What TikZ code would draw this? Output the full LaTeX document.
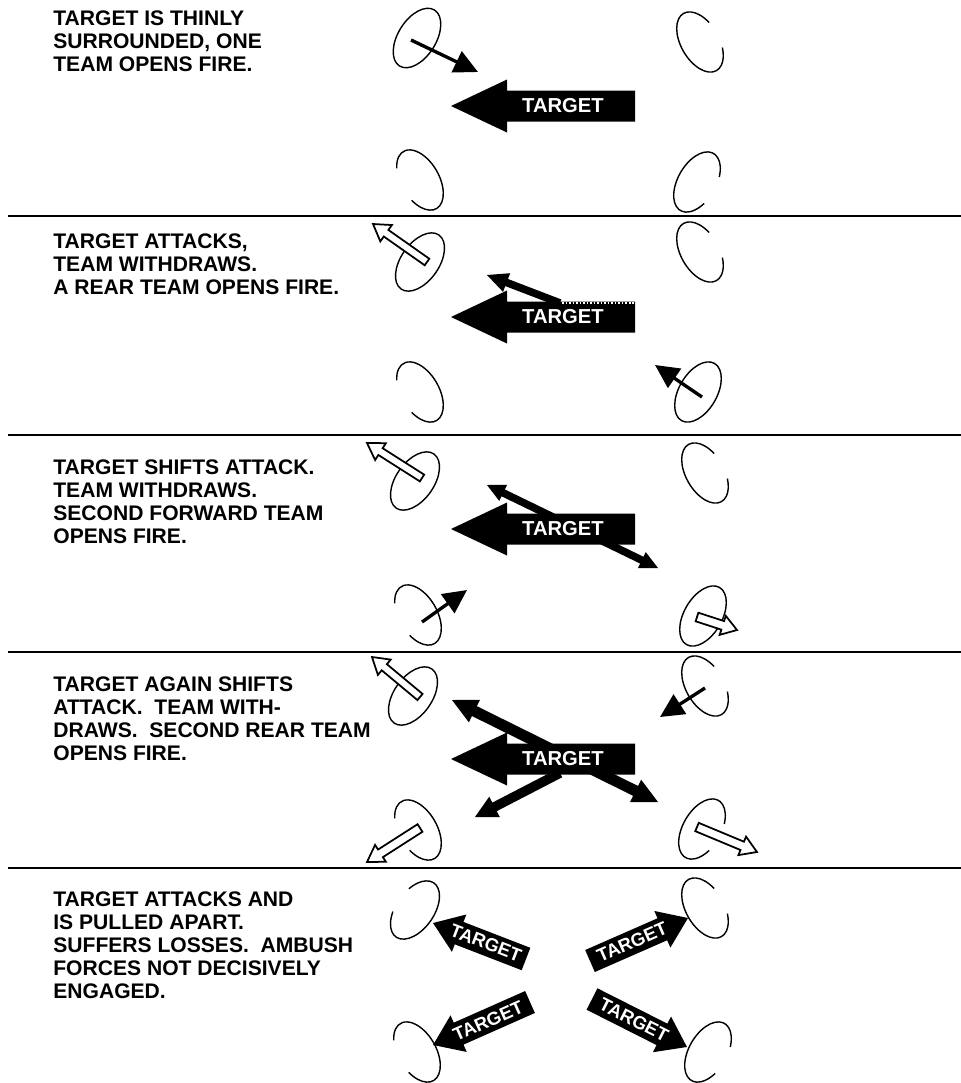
\documentclass[tikz,border=0pt]{standalone}
\usepackage{fontspec}
\setmainfont{Liberation Sans}
\usetikzlibrary{arrows.meta,calc}
% fat arrow polygon: style, x1,y1 (tail), x2,y2 (tip), body half width, head half width, head length
\newcommand\fatarrow[8]{%
  \pgfmathsetmacro\faang{atan2((#5)-(#3),(#4)-(#2))}%
  \pgfmathsetmacro\falen{veclen((#4)-(#2),(#5)-(#3))}%
  \pgfmathsetmacro\fabase{\falen-(#8)}%
  \draw[#1, shift={(#2,#3)}, rotate=\faang] (0,-#6) -- (\fabase,-#6) -- (\fabase,-#7) -- (\falen,0) -- (\fabase,#7) -- (\fabase,#6) -- (0,#6) -- cycle;}
% double headed arrow polygon
\newcommand\dblarrow[8]{%
  \pgfmathsetmacro\faang{atan2((#5)-(#3),(#4)-(#2))}%
  \pgfmathsetmacro\falen{veclen((#4)-(#2),(#5)-(#3))}%
  \pgfmathsetmacro\fabase{\falen-(#8)}%
  \draw[#1, shift={(#2,#3)}, rotate=\faang] (0,0) -- (#8,#7) -- (#8,#6) -- (\fabase,#6) -- (\fabase,#7) -- (\falen,0) -- (\fabase,-#7) -- (\fabase,-#6) -- (#8,-#6) -- (#8,-#7) -- cycle;}
% team ellipse (possibly open): coordinate, rotation, start, end
\newcommand\teamat[4]{%
  \draw[team, shift={(#1)}, rotate=#2] (#3:33 and 19) arc[start angle=#3, end angle=#4, x radius=33, y radius=19];}
\tikzset{
  team/.style={line width=0.8pt},
  divider/.style={line width=1.1pt},
  caption/.style={anchor=north west, align=left, inner sep=0pt, font=\bfseries\fontsize{12}{13.2}\selectfont},
  fire/.style={line width=1.9pt, -{Triangle[length=13.5pt,width=13pt]}},
  hollow/.style={draw=black, fill=white, line width=1pt, line join=miter},
  solidarrow/.style={fill=black, draw=none},
  tgtlabel/.style={text=white, inner sep=0pt, font=\bfseries\fontsize{11.5}{11.5}\selectfont},
  smalllabel/.style={text=white, inner sep=0pt, font=\bfseries\fontsize{10.5}{10.5}\selectfont},
}
\begin{document}
\begin{tikzpicture}[x=0.02cm,y=0.02cm]
\useasboundingbox (0,0) rectangle (961,-1083);
\fill[white] (0,0) rectangle (961,-1083);

% dividers
\coordinate (d1l) at (8,-216);  \coordinate (d1r) at (961,-216);
\coordinate (d2l) at (8,-435);  \coordinate (d2r) at (961,-435);
\coordinate (d3l) at (8,-652);  \coordinate (d3r) at (961,-652);
\coordinate (d4l) at (8,-868);  \coordinate (d4r) at (961,-868);
\draw[divider] (d1l) -- (d1r);
\draw[divider] (d2l) -- (d2r);
\draw[divider] (d3l) -- (d3r);
\draw[divider] (d4l) -- (d4r);

% captions
\node[caption] (cap1) at (53,-10) {TARGET IS THINLY\\SURROUNDED, ONE\\TEAM OPENS FIRE.};
\node[caption] (cap2) at (53,-233) {TARGET ATTACKS,\\TEAM WITHDRAWS.\\A REAR TEAM OPENS FIRE.};
\node[caption] (cap3) at (53,-459) {TARGET SHIFTS ATTACK.\\TEAM WITHDRAWS.\\SECOND FORWARD TEAM\\OPENS FIRE.};
\node[caption] (cap4) at (53,-676) {TARGET AGAIN SHIFTS\\ATTACK.\ \ TEAM WITH-\\DRAWS.\ \ SECOND REAR TEAM\\OPENS FIRE.};
\node[caption] (cap5) at (53,-891) {TARGET ATTACKS AND\\IS PULLED APART.\\SUFFERS LOSSES.\ \ AMBUSH\\FORCES NOT DECISIVELY\\ENGAGED.};

% team positions
\coordinate (tA1) at (417,-38);  \coordinate (tB1) at (700,-42);  \coordinate (tC1) at (420,-180);  \coordinate (tD1) at (697,-182);
\coordinate (tA2) at (420,-262); \coordinate (tB2) at (700,-252); \coordinate (tC2) at (420,-392);  \coordinate (tD2) at (698,-392);
\coordinate (tA3) at (415,-481); \coordinate (tB3) at (705,-473); \coordinate (tC3) at (418,-615);  \coordinate (tD3) at (703,-616);
\coordinate (tA4) at (413,-696); \coordinate (tB4) at (705,-686); \coordinate (tC4) at (418,-830);  \coordinate (tD4) at (702,-829);
\coordinate (tA5) at (415,-910); \coordinate (tB5) at (705,-908); \coordinate (tC5) at (417,-1052); \coordinate (tD5) at (708,-1052);

% panel 1 teams
\teamat{tA1}{58}{0}{360}
\teamat{tB1}{-60}{112}{421}
\teamat{tC1}{-60}{294}{589}
\teamat{tD1}{60}{298}{603}
% panel 2 teams
\teamat{tA2}{55}{0}{360}
\teamat{tB2}{-60}{112}{421}
\teamat{tC2}{-60}{294}{589}
\teamat{tD2}{60}{0}{360}
% panel 3 teams
\teamat{tA3}{55}{0}{360}
\teamat{tB3}{-60}{112}{421}
\teamat{tC3}{-60}{294}{589}
\teamat{tD3}{60}{0}{360}
% panel 4 teams
\teamat{tA4}{55}{0}{360}
\teamat{tB4}{-60}{112}{421}
\teamat{tC4}{-60}{294}{589}
\teamat{tD4}{60}{298}{603}
% panel 5 teams
\teamat{tA5}{55}{115}{425}
\teamat{tB5}{-60}{112}{421}
\teamat{tC5}{-60}{294}{589}
\teamat{tD5}{60}{298}{603}

% fire arrows (team opens fire)
\coordinate (f1s) at (411,-40);  \coordinate (f1e) at (478,-72);
\coordinate (f2s) at (702,-397); \coordinate (f2e) at (655,-365);
\coordinate (f3s) at (422,-622); \coordinate (f3e) at (467,-590);
\coordinate (f4s) at (705,-688); \coordinate (f4e) at (660,-717);
\draw[fire] (f1s) -- (f1e);
\draw[fire] (f2s) -- (f2e);
\draw[fire] (f3s) -- (f3e);
\draw[fire] (f4s) -- (f4e);

% withdrawal arrows (hollow)
\fatarrow{hollow}{427}{-262}{373}{-224}{4}{10}{16}
\fatarrow{hollow}{422}{-478}{367}{-443}{4}{10}{16}
\fatarrow{hollow}{697}{-617}{737}{-630}{4.5}{10}{15}
\fatarrow{hollow}{420}{-697}{372}{-657}{4}{10}{16}
\fatarrow{hollow}{420}{-828}{367}{-862}{4.5}{10}{16}
\fatarrow{hollow}{697}{-827}{757}{-852}{4.5}{10}{16}

% target attack arrows
\fatarrow{solidarrow}{560}{-303}{487}{-275}{3.8}{10}{21}
\dblarrow{solidarrow}{487}{-485}{658}{-568}{3.8}{9}{18}
\dblarrow{solidarrow}{452}{-700}{658}{-802}{5.5}{12.5}{25}
\fatarrow{solidarrow}{560}{-773}{475}{-817}{4.8}{11.5}{22}

% target (main arrows)
\fatarrow{solidarrow}{635}{-106}{451}{-106}{15.5}{26.5}{56}
\fatarrow{solidarrow}{635}{-317}{451}{-317}{15.5}{26.5}{56}
\fatarrow{solidarrow}{635}{-529}{451}{-529}{15.5}{26.5}{56}
\fatarrow{solidarrow}{635}{-759}{451}{-759}{15.5}{26.5}{56}
\draw[white, line width=1.2pt, dash pattern=on 1pt off 1pt] (562,-302.6) -- (635,-302.6);
\node[tgtlabel] (T1) at (563,-106) {TARGET};
\node[tgtlabel] (T2) at (563,-317) {TARGET};
\node[tgtlabel] (T3) at (563,-529) {TARGET};
\node[tgtlabel] (T4) at (563,-759) {TARGET};

% panel 5: target pulled apart
\fatarrow{solidarrow}{526}{-959}{433}{-923}{12}{20}{28}
\fatarrow{solidarrow}{590}{-961}{688}{-918}{12}{20}{28}
\fatarrow{solidarrow}{530}{-1002}{433}{-1045}{12}{20}{28}
\fatarrow{solidarrow}{592}{-999}{687}{-1047}{12}{20}{28}
\node[smalllabel, rotate=-21]   (T5a) at (486,-943)  {TARGET};
\node[smalllabel, rotate=23.6]  (T5b) at (632,-942)  {TARGET};
\node[smalllabel, rotate=23.9]  (T5c) at (488,-1021) {TARGET};
\node[smalllabel, rotate=-26.8] (T5d) at (634,-1020) {TARGET};
\end{tikzpicture}
\end{document}
